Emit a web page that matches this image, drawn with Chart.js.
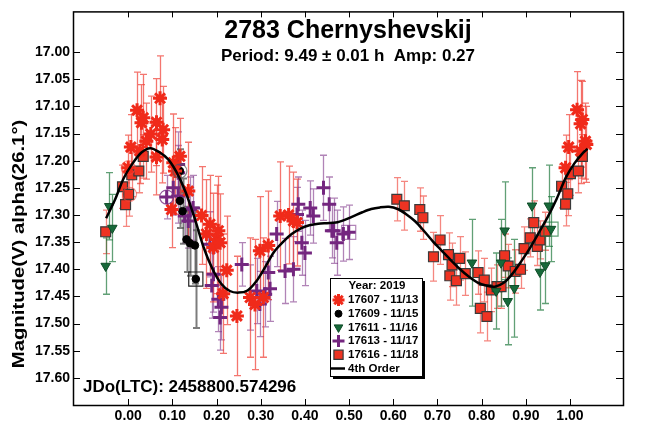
<!DOCTYPE html>
<html>
<head>
<meta charset="utf-8">
<script src="https://cdn.jsdelivr.net/npm/chart.js@4.4.0/dist/chart.umd.min.js"></script>
<style>
  html, body { margin: 0; padding: 0; background: #fff; }
  #wrap { width: 653px; height: 423px; }
</style>
</head>
<body>
<div id="wrap"><canvas id="chart" width="653" height="423"></canvas></div>
<script>
const FONT = '"Liberation Sans", Arial, sans-serif'

const xTicks = [0.0, 0.1, 0.2, 0.3, 0.4, 0.5, 0.6, 0.7, 0.8, 0.9, 1.0]
const yTicks = [17.00, 17.05, 17.10, 17.15, 17.20, 17.25, 17.30, 17.35, 17.40, 17.45, 17.50, 17.55, 17.60]

const titleText = '2783 Chernyshevskij'
const subtitleText = 'Period: 9.49 \u00b1 0.01 h  Amp: 0.27'
const yTitle = 'Magnitude(V) alpha(26.1\u00b0)'
const epochText = 'JDo(LTC): 2458800.574296'
const legendTitle = 'Year: 2019'
const seriesNames = ['17607 - 11/13', '17609 - 11/15', '17611 - 11/16', '17613 - 11/17', '17616 - 11/18']
const fitName = '4th Order'

// 17607 - 11/13
const s07Phase = [0.000, 0.006, 0.020, 0.026, 0.030, 0.034, 0.041, 0.051, 0.064, 0.064, 0.072, 0.077, 0.079, 0.098, 0.102, 0.106, 0.117, 0.136, 0.166, 0.177, 0.185, 0.193, 0.200, 0.204, 0.208, 0.215, 0.223, 0.246, 0.276, 0.287, 0.298, 0.306, 0.317, 0.344, 0.363, 0.374, 0.382, 0.990, 0.997, 1.016, 1.024, 1.028, 1.024, 1.035, 1.037]
const s07Mag = [17.213, 17.175, 17.107, 17.182, 17.130, 17.121, 17.164, 17.151, 17.129, 17.193, 17.085, 17.161, 17.143, 17.290, 17.204, 17.219, 17.192, 17.256, 17.301, 17.335, 17.317, 17.360, 17.345, 17.329, 17.351, 17.445, 17.402, 17.486, 17.452, 17.465, 17.366, 17.452, 17.356, 17.302, 17.300, 17.311, 17.314, 17.213, 17.175, 17.106, 17.132, 17.124, 17.182, 17.164, 17.170]
const s07Err = [0.06, 0.06, 0.07, 0.06, 0.07, 0.08, 0.07, 0.07, 0.08, 0.07, 0.078, 0.08, 0.08, 0.07, 0.09, 0.08, 0.07, 0.09, 0.09, 0.10, 0.09, 0.10, 0.10, 0.10, 0.09, 0.11, 0.10, 0.11, 0.11, 0.12, 0.10, 0.11, 0.10, 0.10, 0.09, 0.09, 0.08, 0.06, 0.06, 0.07, 0.08, 0.07, 0.06, 0.07, 0.07]

// 17609 - 11/15
const s09Phase = [0.117, 0.117, 0.123, 0.132, 0.140, 0.151, 0.153]
const s09Mag = [17.219, 17.274, 17.293, 17.345, 17.352, 17.356, 17.418]
const s09Err = [0.04, 0.05, 0.06, 0.06, 0.06, 0.07, 0.09]

// 17611 - 11/16
const s11Phase = [-0.051, -0.043, -0.036, 0.778, 0.833, 0.844, 0.852, 0.859, 0.874, 0.914, 0.932, 0.944, 0.952, 0.957]
const s11Mag = [17.394, 17.284, 17.324, 17.388, 17.440, 17.388, 17.329, 17.459, 17.435, 17.283, 17.405, 17.393, 17.283, 17.326]
const s11Err = [0.052, 0.062, 0.062, 0.08, 0.07, 0.08, 0.09, 0.08, 0.09, 0.07, 0.07, 0.07, 0.075, 0.06]

// 17613 - 11/17
const s13Phase = [0.087, 0.102, 0.113, 0.113, 0.113, 0.128, 0.136, 0.140, 0.147, 0.185, 0.189, 0.193, 0.204, 0.208, 0.211, 0.257, 0.276, 0.291, 0.298, 0.310, 0.317, 0.321, 0.336, 0.355, 0.374, 0.382, 0.385, 0.393, 0.400, 0.412, 0.419, 0.442, 0.455, 0.461, 0.465, 0.472, 0.487, 0.499]
const s13Mag = [17.267, 17.250, 17.207, 17.222, 17.265, 17.302, 17.311, 17.290, 17.287, 17.354, 17.430, 17.409, 17.455, 17.489, 17.470, 17.391, 17.452, 17.440, 17.464, 17.446, 17.406, 17.436, 17.335, 17.403, 17.400, 17.299, 17.280, 17.351, 17.370, 17.287, 17.302, 17.250, 17.280, 17.329, 17.329, 17.351, 17.335, 17.332]
const s13Err = [0.04, 0.05, 0.06, 0.05, 0.05, 0.05, 0.05, 0.06, 0.06, 0.06, 0.06, 0.07, 0.06, 0.06, 0.06, 0.04, 0.06, 0.06, 0.06, 0.06, 0.05, 0.06, 0.06, 0.06, 0.06, 0.05, 0.05, 0.06, 0.06, 0.05, 0.05, 0.06, 0.05, 0.05, 0.06, 0.06, 0.05, 0.05]

// 17616 - 11/18
const s16Phase = [-0.051, -0.013, -0.006, 0.001, 0.008, 0.024, 0.034, 0.608, 0.625, 0.660, 0.667, 0.691, 0.706, 0.725, 0.728, 0.733, 0.743, 0.750, 0.763, 0.792, 0.797, 0.806, 0.812, 0.822, 0.835, 0.844, 0.852, 0.860, 0.876, 0.888, 0.896, 0.910, 0.918, 0.926, 0.932, 0.944, 0.981, 0.990, 0.995, 1.001, 1.019, 1.028]
const s16Mag = [17.331, 17.248, 17.281, 17.262, 17.226, 17.219, 17.192, 17.271, 17.283, 17.290, 17.305, 17.377, 17.346, 17.373, 17.412, 17.392, 17.421, 17.380, 17.408, 17.406, 17.472, 17.420, 17.487, 17.438, 17.432, 17.432, 17.375, 17.394, 17.404, 17.400, 17.362, 17.342, 17.314, 17.358, 17.346, 17.330, 17.247, 17.280, 17.261, 17.224, 17.219, 17.192]
const s16Err = [0.04, 0.04, 0.04, 0.04, 0.04, 0.04, 0.04, 0.04, 0.045, 0.04, 0.04, 0.045, 0.045, 0.04, 0.045, 0.04, 0.045, 0.04, 0.04, 0.04, 0.045, 0.04, 0.045, 0.04, 0.04, 0.04, 0.04, 0.04, 0.04, 0.035, 0.04, 0.035, 0.04, 0.035, 0.035, 0.035, 0.04, 0.04, 0.04, 0.04, 0.04, 0.04]

// 4th order fit
const fitPhase = [-0.05, -0.03, -0.01, 0.01, 0.03, 0.05, 0.07, 0.09, 0.11, 0.13, 0.15, 0.17, 0.19, 0.21, 0.23, 0.25, 0.27, 0.29, 0.31, 0.33, 0.35, 0.37, 0.39, 0.41, 0.43, 0.45, 0.47, 0.49, 0.51, 0.53, 0.55, 0.57, 0.59, 0.61, 0.63, 0.65, 0.67, 0.69, 0.71, 0.73, 0.75, 0.77, 0.79, 0.81, 0.83, 0.85, 0.87, 0.89, 0.91, 0.93, 0.95, 0.97, 0.99, 1.01, 1.03, 1.04]
const fitMag = [17.306, 17.272, 17.232, 17.205, 17.185, 17.177, 17.184, 17.197, 17.222, 17.258, 17.305, 17.358, 17.398, 17.426, 17.440, 17.443, 17.439, 17.422, 17.396, 17.368, 17.350, 17.335, 17.325, 17.319, 17.316, 17.315, 17.314, 17.309, 17.302, 17.295, 17.289, 17.286, 17.285, 17.289, 17.299, 17.312, 17.330, 17.349, 17.366, 17.383, 17.399, 17.413, 17.424, 17.430, 17.432, 17.425, 17.408, 17.385, 17.360, 17.332, 17.303, 17.270, 17.232, 17.205, 17.185, 17.178]

// flagged points drawn with an open ring / box
const ringPhase = [0.087, 0.000, 0.003, 0.117]
const ringMag = [17.267, 17.213, 17.262, 17.219]
const boxPhase = [0.153, 0.499, 0.957]
const boxMag = [17.418, 17.332, 17.326]

const pts = (xs, ys) => xs.map((x, i) => ({ x: x, y: ys[i] }))

const datasets = [
  { label: fitName, type: 'line', data: pts(fitPhase, fitMag), borderColor: '#000', borderWidth: 2.5, pointRadius: 0, tension: 0.3, fill: false },
  { label: 'ring', data: pts(ringPhase, ringMag), pointStyle: 'circle', pointRadius: 7, backgroundColor: 'rgba(0,0,0,0)',
    borderColor: ['rgba(125,50,135,0.8)', 'rgba(240,70,60,0.6)', 'rgba(240,70,60,0.6)', 'rgba(90,90,90,0.7)'], borderWidth: 1.2 },
  { label: 'box', data: pts(boxPhase, boxMag), pointStyle: 'rect', pointRadius: 10, backgroundColor: 'rgba(0,0,0,0)',
    borderColor: ['#222', 'rgba(125,50,135,0.6)', 'rgba(30,120,60,0.7)'], borderWidth: 1.2 },
  { label: seriesNames[0], data: pts(s07Phase, s07Mag), errors: s07Err, errColor: 'rgba(240,60,50,0.7)', errWidth: 1.3,
    pointStyle: 'star', pointRadius: 7, borderColor: '#f02a1a', backgroundColor: '#f02a1a', borderWidth: 3 },
  { label: seriesNames[1], data: pts(s09Phase, s09Mag), errors: s09Err, errColor: 'rgba(80,80,80,0.75)', errWidth: 2,
    pointStyle: 'circle', pointRadius: 3.8, borderColor: '#000', backgroundColor: '#000', borderWidth: 1 },
  { label: seriesNames[3], data: pts(s13Phase, s13Mag), errors: s13Err, errColor: 'rgba(125,50,135,0.6)', errWidth: 1.3,
    pointStyle: 'cross', pointRadius: 7, borderColor: '#74267f', backgroundColor: '#74267f', borderWidth: 3 },
  { label: seriesNames[2], data: pts(s11Phase, s11Mag), errors: s11Err, errColor: 'rgba(30,120,60,0.7)', errWidth: 1.3,
    pointStyle: 'triangle', rotation: 180, pointRadius: 5.5, borderColor: '#0f4d28', backgroundColor: '#17693a', borderWidth: 1 },
  { label: seriesNames[4], data: pts(s16Phase, s16Mag), errors: s16Err, errColor: 'rgba(240,70,60,0.65)', errWidth: 1.3,
    pointStyle: 'rect', pointRadius: 7, borderColor: '#3a3a3a', backgroundColor: '#ee3322', borderWidth: 1.2 }
]

const errorBars = {
  id: 'errorBars',
  beforeDatasetsDraw(chart) {
    const { ctx, chartArea: a, scales: { x, y } } = chart
    ctx.save()
    ctx.beginPath()
    ctx.rect(a.left, a.top, a.right - a.left, a.bottom - a.top)
    ctx.clip()
    chart.data.datasets.slice().reverse().forEach(ds => {
      if (!ds.errors) return
      ctx.strokeStyle = ds.errColor
      ctx.lineWidth = ds.errWidth
      ds.data.forEach((p, i) => {
        const px = Math.round(x.getPixelForValue(p.x)) + 0.5
        const y1 = y.getPixelForValue(p.y - ds.errors[i])
        const y2 = y.getPixelForValue(p.y + ds.errors[i])
        ctx.beginPath()
        ctx.moveTo(px, y1); ctx.lineTo(px, y2)
        ctx.moveTo(px - 3.5, y1); ctx.lineTo(px + 3.5, y1)
        ctx.moveTo(px - 3.5, y2); ctx.lineTo(px + 3.5, y2)
        ctx.stroke()
      })
    })
    ctx.restore()
  }
}

function marker(ctx, ds, cx, cy, r) {
  ctx.save()
  ctx.strokeStyle = ds.borderColor
  ctx.fillStyle = ds.backgroundColor
  ctx.lineWidth = ds.borderWidth
  Chart.helpers.drawPoint(ctx, { pointStyle: ds.pointStyle, radius: r, rotation: ds.rotation || 0, borderWidth: ds.borderWidth }, cx, cy)
  ctx.restore()
}

const frame = {
  id: 'frame',
  afterDraw(chart) {
    const { ctx, chartArea: a, scales: { x, y } } = chart
    ctx.save()
    ctx.strokeStyle = '#000'
    ctx.lineWidth = 1.5
    ctx.strokeRect(a.left + 0.5, a.top + 0.5, a.right - a.left, a.bottom - a.top)
    ctx.lineWidth = 1
    ctx.beginPath()
    xTicks.forEach(v => {
      const px = Math.round(x.getPixelForValue(v)) + 0.5
      ctx.moveTo(px, a.top); ctx.lineTo(px, a.top + 6)
      ctx.moveTo(px, a.bottom); ctx.lineTo(px, a.bottom - 6)
    })
    yTicks.forEach(v => {
      const py = Math.round(y.getPixelForValue(v)) + 0.5
      ctx.moveTo(a.left, py); ctx.lineTo(a.left + 7, py)
      ctx.moveTo(a.right, py); ctx.lineTo(a.right - 7, py)
    })
    ctx.stroke()

    const cx = (a.left + a.right) / 2
    ctx.fillStyle = '#000'
    ctx.textAlign = 'center'
    ctx.textBaseline = 'alphabetic'
    ctx.font = 'bold 25px ' + FONT
    ctx.fillText(titleText, cx, 38)
    ctx.font = 'bold 17px ' + FONT
    ctx.fillText(subtitleText, cx, 61)

    ctx.textAlign = 'left'
    ctx.font = 'bold 17px ' + FONT
    ctx.fillText(epochText, 83, 392)

    ctx.save()
    ctx.translate(24, 244)
    ctx.rotate(-Math.PI / 2)
    ctx.scale(1.27, 1)
    ctx.textAlign = 'center'
    ctx.font = 'bold 16px ' + FONT
    ctx.fillText(yTitle, 0, 0)
    ctx.restore()

    // legend box
    const lx = 330, ly = 278, lw = 92, lh = 98
    ctx.fillStyle = '#000'
    ctx.fillRect(lx + 3, ly + 3, lw, lh)
    ctx.fillStyle = '#fff'
    ctx.fillRect(lx, ly, lw, lh)
    ctx.lineWidth = 1
    ctx.strokeStyle = '#000'
    ctx.strokeRect(lx + 0.5, ly + 0.5, lw, lh)
    ctx.fillStyle = '#000'
    ctx.font = 'bold 11.5px ' + FONT
    ctx.textAlign = 'center'
    ctx.textBaseline = 'middle'
    ctx.fillText(legendTitle, lx + 47, ly + 8)
    ctx.textAlign = 'left'
    const order = [3, 4, 6, 5, 7]
    const sizes = [6, 3.5, 5, 6, 6.5]
    order.forEach((di, k) => {
      const ry = ly + 22 + k * 13.7
      marker(ctx, chart.data.datasets[di], lx + 8.5, ry, sizes[k])
      ctx.fillStyle = '#000'
      ctx.fillText(seriesNames[k], lx + 18, ry)
    })
    const fy = ly + 22 + 5 * 13.7
    ctx.lineWidth = 2.5
    ctx.beginPath()
    ctx.moveTo(lx, fy); ctx.lineTo(lx + 15, fy)
    ctx.stroke()
    ctx.fillText(fitName, lx + 18, fy)
    ctx.restore()
  }
}

new Chart(document.getElementById('chart'), {
  type: 'scatter',
  data: { datasets: datasets },
  options: {
    responsive: false,
    animation: false,
    devicePixelRatio: 1,
    layout: { padding: { top: 11, right: 30, left: 0, bottom: 0 } },
    plugins: { legend: { display: false }, tooltip: { enabled: false } },
    scales: {
      x: {
        type: 'linear', min: -0.125, max: 1.12, bounds: 'data',
        afterBuildTicks: s => { s.ticks = xTicks.map(v => ({ value: v })) },
        afterFit: s => { s.height = 18 },
        grid: { display: false, drawTicks: false },
        border: { display: false },
        ticks: { color: '#000', font: { family: FONT, size: 14, weight: 'bold' }, padding: 3, maxRotation: 0, autoSkip: false,
          callback: v => v.toFixed(2) }
      },
      y: {
        type: 'linear', reverse: true, min: 16.925, max: 17.65, bounds: 'data',
        afterBuildTicks: s => { s.ticks = yTicks.map(v => ({ value: v })) },
        afterFit: s => { s.width = 73 },
        grid: { display: false, drawTicks: false },
        border: { display: false },
        ticks: { color: '#000', font: { family: FONT, size: 14, weight: 'bold' }, padding: 3, autoSkip: false,
          callback: v => v.toFixed(2) }
      }
    }
  },
  plugins: [errorBars, frame]
})
</script>
</body>
</html>
